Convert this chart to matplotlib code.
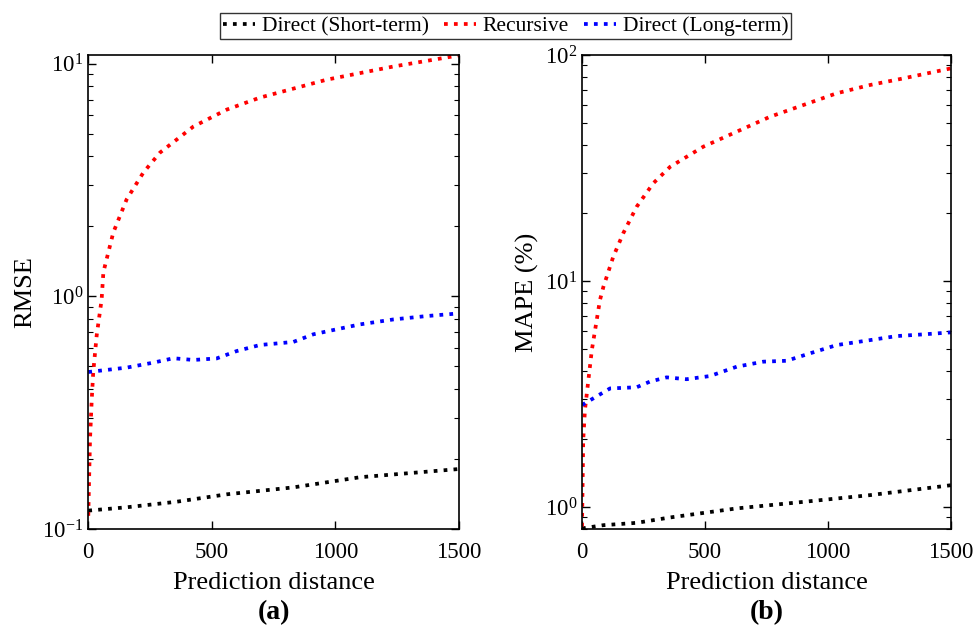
import numpy as np
import matplotlib.pyplot as plt

plt.rcParams['font.family'] = ['Liberation Serif', 'DejaVu Serif']
plt.rcParams['mathtext.fontset'] = 'custom'
plt.rcParams['mathtext.rm'] = 'Liberation Serif'
plt.rcParams['mathtext.it'] = 'Liberation Serif:italic'
plt.rcParams['axes.unicode_minus'] = False

series_names = ['Direct (Short-term)', 'Recursive', 'Direct (Long-term)']
series_colors = ['black', 'red', 'blue']

# (a) RMSE
rmse_short_x = [1, 156, 358, 561, 830, 1100, 1497]
rmse_short_y = [0.120, 0.124, 0.131, 0.141, 0.151, 0.167, 0.181]
rmse_rec_x = [1, 8, 15, 21, 35, 55, 62, 102, 156, 224, 291, 426, 561, 695, 965, 1235, 1500]
rmse_rec_y = [0.114, 0.243, 0.361, 0.472, 0.68, 0.97, 1.27, 1.88, 2.61, 3.41, 4.15, 5.37,
              6.35, 7.15, 8.54, 9.73, 10.86]
rmse_long_x = [1, 156, 264, 345, 426, 520, 601, 695, 830, 911, 992, 1100, 1235, 1369, 1500]
rmse_long_y = [0.473, 0.494, 0.519, 0.542, 0.533, 0.541, 0.582, 0.618, 0.637, 0.687, 0.717,
               0.758, 0.796, 0.823, 0.845]

# (b) MAPE (%)
mape_short_x = [0, 87, 222, 358, 629, 900, 1171, 1500]
mape_short_y = [0.805, 0.832, 0.852, 0.90, 0.987, 1.055, 1.13, 1.25]
mape_rec_x = [0, 5, 12, 26, 40, 73, 87, 127, 168, 222, 290, 358, 493, 629, 764, 900, 1035,
              1171, 1306, 1500]
mape_rec_y = [0.82, 1.98, 2.69, 3.65, 4.95, 8.24, 9.43, 12.8, 16.3, 21.3, 27.1, 32.0, 39.3,
              45.8, 53.3, 60.1, 67.7, 73.7, 78.8, 87.3]
mape_long_x = [0, 33, 114, 222, 276, 344, 425, 520, 629, 737, 832, 927, 1035, 1171, 1279,
               1387, 1500]
mape_long_y = [2.83, 2.97, 3.35, 3.39, 3.59, 3.75, 3.68, 3.80, 4.18, 4.40, 4.44, 4.79, 5.21,
               5.48, 5.71, 5.81, 5.93]

fig = plt.figure(figsize=(9.76, 6.36), dpi=100)
ax1 = fig.add_axes([0.0902, 0.1682, 0.3801, 0.7453])
ax2 = fig.add_axes([0.5963, 0.1682, 0.3781, 0.7453])

panels = [
    (ax1, [(rmse_short_x, rmse_short_y), (rmse_rec_x, rmse_rec_y), (rmse_long_x, rmse_long_y)],
     'RMSE', (0.1, 10.9), '(a)'),
    (ax2, [(mape_short_x, mape_short_y), (mape_rec_x, mape_rec_y), (mape_long_x, mape_long_y)],
     'MAPE (%)', (0.80, 100), '(b)'),
]

handles = []
for ax, data, ylab, ylim, tag in panels:
    lines = []
    for (xs, ys), name, col in zip(data, series_names, series_colors):
        ln, = ax.plot(xs, ys, linestyle=':', color=col, linewidth=2.7, label=name)
        lines.append(ln)
    handles = lines
    ax.set_yscale('log')
    ax.set_xlim(0, 1500)
    ax.set_ylim(*ylim)
    ax.set_xticks([0, 500, 1000, 1500])
    ax.tick_params(axis='both', which='both', direction='in', top=True, right=True,
                   labelsize=16.5)
    ax.tick_params(axis='both', which='major', length=6, width=1)
    ax.tick_params(axis='y', which='minor', length=3.5, width=0.8)
    ax.tick_params(axis='x', which='major', pad=9)
    ax.set_xlabel('Prediction distance', fontsize=19, labelpad=7)
    ax.set_ylabel(ylab, fontsize=19)
    for s in ax.spines.values():
        s.set_linewidth(1.2)
    pos = ax.get_position()
    fig.text((pos.x0 + pos.x1) / 2, 0.036, tag, ha='center', va='center',
             fontsize=20, fontweight='bold')

leg = fig.legend(handles, series_names, loc='upper center', bbox_to_anchor=(0.518, 0.983),
                 ncol=3, fontsize=15.5, frameon=True, fancybox=False, edgecolor='black',
                 handlelength=1.5, handletextpad=0.3, columnspacing=0.7, borderpad=0.15,
                 borderaxespad=0.1)
leg.get_frame().set_linewidth(1.0)

fig.savefig('out.png', dpi=100)
